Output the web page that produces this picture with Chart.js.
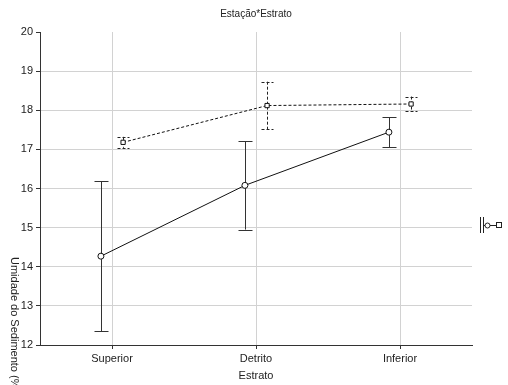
<!DOCTYPE html>
<html>
<head>
<meta charset="utf-8">
<script src="https://cdn.jsdelivr.net/npm/chart.js@4/dist/chart.umd.min.js"></script>
<style>
  html, body { margin: 0; padding: 0; background: #fff; }
</style>
</head>
<body>
<canvas id="chart" width="508" height="385"></canvas>
<script>
// values
const categories = ['Superior', 'Detrito', 'Inferior'];
const solidMeans = [14.27, 16.08, 17.44];
const solidErrors = [1.92, 1.13, 0.38];
const dashedMeans = [17.18, 18.12, 18.16];
const dashedErrors = [0.14, 0.61, 0.19];
const yMin = 12;
const yMax = 20;

const FONT = '"Liberation Sans", Arial, sans-serif';
const SHIFT = 0.077; // the two series sit a little left / right of each category

function toPoints(means, shift) {
  return means.map((v, i) => ({ x: i + shift, y: v }));
}

// draws the whiskers under the markers
const errorBars = {
  id: 'errorBars',
  beforeDatasetsDraw(chart) {
    const ctx = chart.ctx;
    const xs = chart.scales.x, ys = chart.scales.y;
    const sets = [
      { means: solidMeans, errs: solidErrors, shift: -SHIFT, dash: [], cap: 7, color: '#333' },
      { means: dashedMeans, errs: dashedErrors, shift: SHIFT, dash: [3, 2], cap: 6, color: '#222' }
    ];
    ctx.save();
    ctx.lineWidth = 1;
    sets.forEach(s => {
      ctx.strokeStyle = s.color;
      ctx.setLineDash(s.dash);
      s.means.forEach((m, i) => {
        const px = Math.round(xs.getPixelForValue(i + s.shift)) + 0.5;
        const top = ys.getPixelForValue(m + s.errs[i]);
        const bot = ys.getPixelForValue(m - s.errs[i]);
        ctx.beginPath();
        ctx.moveTo(px, top);
        ctx.lineTo(px, bot);
        ctx.moveTo(px - s.cap, Math.round(top) + 0.5);
        ctx.lineTo(px + s.cap, Math.round(top) + 0.5);
        ctx.moveTo(px - s.cap, Math.round(bot) + 0.5);
        ctx.lineTo(px + s.cap, Math.round(bot) + 0.5);
        ctx.stroke();
      });
    });
    ctx.restore();
  }
};

// titles and the clipped legend on the right
const texts = {
  id: 'texts',
  afterDraw(chart) {
    const ctx = chart.ctx;
    ctx.save();
    ctx.fillStyle = '#222';
    ctx.textAlign = 'center';
    ctx.textBaseline = 'middle';
    ctx.font = '10px ' + FONT;
    ctx.fillText('Estação*Estrato', 256, 14);
    ctx.font = '11px ' + FONT;
    ctx.fillText('Estrato', 256, 376);

    ctx.save();
    ctx.translate(14, 257);
    ctx.rotate(Math.PI / 2);
    ctx.textAlign = 'left';
    ctx.fillText('Umidade do Sedimento (%)', 0, 0);
    ctx.restore();

    // legend symbols
    ctx.strokeStyle = '#222';
    ctx.lineWidth = 1;
    ctx.beginPath();
    ctx.moveTo(480.5, 217); ctx.lineTo(480.5, 233);
    ctx.moveTo(483.5, 217); ctx.lineTo(483.5, 233);
    ctx.moveTo(484, 225.5); ctx.lineTo(496, 225.5);
    ctx.stroke();
    ctx.fillStyle = '#fff';
    ctx.beginPath();
    ctx.arc(487.5, 225.5, 2.5, 0, Math.PI * 2);
    ctx.fill(); ctx.stroke();
    ctx.fillRect(496.5, 222.5, 5, 5);
    ctx.strokeRect(496.5, 222.5, 5, 5);
    ctx.restore();
  }
};

new Chart(document.getElementById('chart'), {
  type: 'line',
  data: {
    datasets: [
      {
        data: toPoints(solidMeans, -SHIFT),
        borderColor: '#111',
        borderWidth: 1,
        pointStyle: 'circle',
        pointRadius: 3,
        pointBackgroundColor: '#fff',
        pointBorderColor: '#111',
        pointBorderWidth: 1
      },
      {
        data: toPoints(dashedMeans, SHIFT),
        borderColor: '#111',
        borderWidth: 1,
        borderDash: [3, 2],
        pointStyle: 'rect',
        pointRadius: 3,
        pointBackgroundColor: '#fff',
        pointBorderColor: '#111',
        pointBorderWidth: 1
      }
    ]
  },
  options: {
    responsive: false,
    animation: false,
    devicePixelRatio: 1,
    layout: { padding: { top: 32, right: 36, left: 0, bottom: 0 } },
    plugins: { legend: { display: false }, title: { display: false }, tooltip: { enabled: false } },
    scales: {
      x: {
        type: 'linear',
        min: -0.5,
        max: 2.5,
        afterBuildTicks: s => { s.ticks = categories.map((c, i) => ({ value: i })); },
        afterFit: s => { s.height = 40; },
        ticks: {
          callback: v => categories[v],
          color: '#222',
          font: { family: FONT, size: 11 },
          maxRotation: 0,
          autoSkip: false,
          padding: 3
        },
        grid: { color: '#d2d2d2', tickColor: '#333', tickLength: 4 },
        border: { color: '#333' }
      },
      y: {
        min: yMin,
        max: yMax,
        afterFit: s => { s.width = 40; },
        ticks: {
          stepSize: 1,
          color: '#222',
          font: { family: FONT, size: 11 },
          padding: 3
        },
        grid: {
          color: c => (c.tick && (c.tick.value === yMax || c.tick.value === yMin)) ? 'rgba(0,0,0,0)' : '#d2d2d2',
          tickColor: '#333',
          tickLength: 4
        },
        border: { color: '#333' }
      }
    }
  },
  plugins: [errorBars, texts]
});
</script>
</body>
</html>
